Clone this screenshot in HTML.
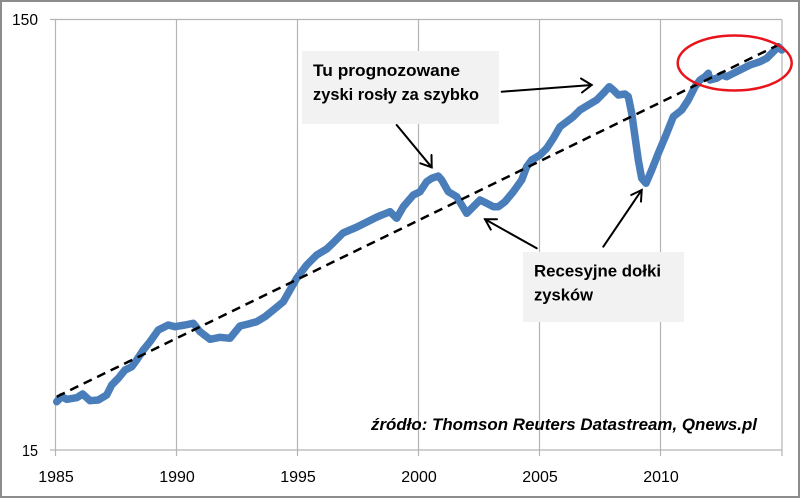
<!DOCTYPE html>
<html><head><meta charset="utf-8"><style>
html,body{margin:0;padding:0;background:#fff;}
svg{display:block;}
text{font-family:"Liberation Sans",Arial,sans-serif;fill:#000;}
</style></head><body>
<svg width="800" height="498" viewBox="0 0 800 498" xmlns="http://www.w3.org/2000/svg">
<rect x="1" y="1" width="798" height="496" fill="#fff" stroke="#8c8c8c" stroke-width="2"/>
<g stroke="#b4b4b4" stroke-width="1.2" fill="none">
<line x1="50" y1="19.5" x2="782" y2="19.5"/>
<line x1="50" y1="450" x2="782" y2="450"/>
<line x1="55.5" y1="19.5" x2="55.5" y2="456"/>
<line x1="176.5" y1="19.5" x2="176.5" y2="456"/>
<line x1="297.5" y1="19.5" x2="297.5" y2="456"/>
<line x1="418.5" y1="19.5" x2="418.5" y2="456"/>
<line x1="539.5" y1="19.5" x2="539.5" y2="456"/>
<line x1="660.5" y1="19.5" x2="660.5" y2="456"/>
<line x1="782" y1="19.5" x2="782" y2="456"/>
</g>
<text x="12" y="25" font-size="16" textLength="26" lengthAdjust="spacingAndGlyphs">150</text>
<text x="22" y="456" font-size="16" textLength="16" lengthAdjust="spacingAndGlyphs">15</text>
<g font-size="16" text-anchor="middle">
<text x="56" y="482">1985</text>
<text x="177" y="482">1990</text>
<text x="298" y="482">1995</text>
<text x="419" y="482">2000</text>
<text x="540" y="482">2005</text>
<text x="661" y="482">2010</text>
</g>
<rect x="302" y="51" width="197" height="73" fill="#f2f2f2"/>
<rect x="523" y="252" width="161" height="70" fill="#f2f2f2"/>
<polyline fill="none" stroke="#4a7ebb" stroke-width="7.5" stroke-linejoin="round" stroke-linecap="round" points="
56.7,401.7 61.7,396.7 66.7,399.3 76.7,397.7 82.7,394 90,400.7 98.3,400 106.7,395 111.7,385 118.3,378.3 125,370 131.7,366.7 136.7,360 143.3,350 150,341.7 158.3,330 168.3,325 175,326.7 185,325 193.3,323.3 200,331.7 210,339.3 220,337.3 230,338.3 240,326 248.3,324 256.7,321.7 265,316.7 273.3,310 283.3,301.7 290,290 296.7,278.3 306.7,265 316.7,255 326.7,249 333,243 343,233 357,227 367,222 377,217 390,211.7 396.7,218.3 403.3,206.7 413.3,195 420,191.7 426.7,181.7 431.7,178.3 438.3,176 441.7,180 448.3,191.7 456.7,196.7 461.7,205 466.7,213.3 473.3,206.7 480,200 486.7,203.3 493.3,206.7 498.3,206.7 505,201.7 513.3,191.7 521.7,180 526.7,166.7 531.7,160 540,155 546.7,148.3 553.3,138.3 560,126.7 566.7,121.7 573.3,116.7 580,110 588.3,105 596.7,100 603.3,93.3 609.3,86.7 613.3,90 618.3,95 625,94 628.3,96.7 631.7,113.3 635,136.7 638.3,160 641.7,178.3 646,183.3 651.7,170 658.3,153.3 666.7,133.3 673.3,116.7 681.7,110 688.3,100 695,86.7 700,80 705,76.7 708.3,73.3 710,80 716.7,78.3 721.7,75 726.7,76.7 733.3,73.3 740,70 750,65 760,61.7 766.7,58.3 773.3,51.7 778.3,46.7 781.7,50"/>
<line x1="56.7" y1="396.7" x2="781.7" y2="43.3" stroke="#000" stroke-width="2.5" stroke-dasharray="9,6"/>
<ellipse cx="734.7" cy="63" rx="57" ry="27.5" fill="none" stroke="#e8141c" stroke-width="2.5"/>
<g stroke="#000" stroke-width="2" fill="none" stroke-linecap="round">
<line x1="501.7" y1="91.7" x2="591.7" y2="85"/>
<polyline points="581,78.5 591.7,85 582,92.5"/>
<line x1="396.7" y1="125" x2="431.7" y2="167.3"/>
<polyline points="431.5,155 431.7,167.3 420.3,163.3"/>
<line x1="536.7" y1="248.3" x2="485" y2="219.3"/>
<polyline points="490.8,229.6 485,219.3 497,219.3"/>
<line x1="603.3" y1="246.7" x2="641.7" y2="190"/>
<polyline points="631.2,195 641.7,190 641,201.6"/>
</g>
<g font-size="17" font-weight="bold">
<text x="313" y="76" textLength="147" lengthAdjust="spacingAndGlyphs">Tu prognozowane</text>
<text x="313" y="100" textLength="166" lengthAdjust="spacingAndGlyphs">zyski rosły za szybko</text>
<text x="534" y="276.7" textLength="127" lengthAdjust="spacingAndGlyphs">Recesyjne dołki</text>
<text x="534" y="300.7" textLength="59" lengthAdjust="spacingAndGlyphs">zysków</text>
</g>
<text x="371" y="430" font-size="17" font-weight="bold" font-style="italic" textLength="386" lengthAdjust="spacingAndGlyphs">źródło: Thomson Reuters Datastream, Qnews.pl</text>
</svg>
</body></html>
